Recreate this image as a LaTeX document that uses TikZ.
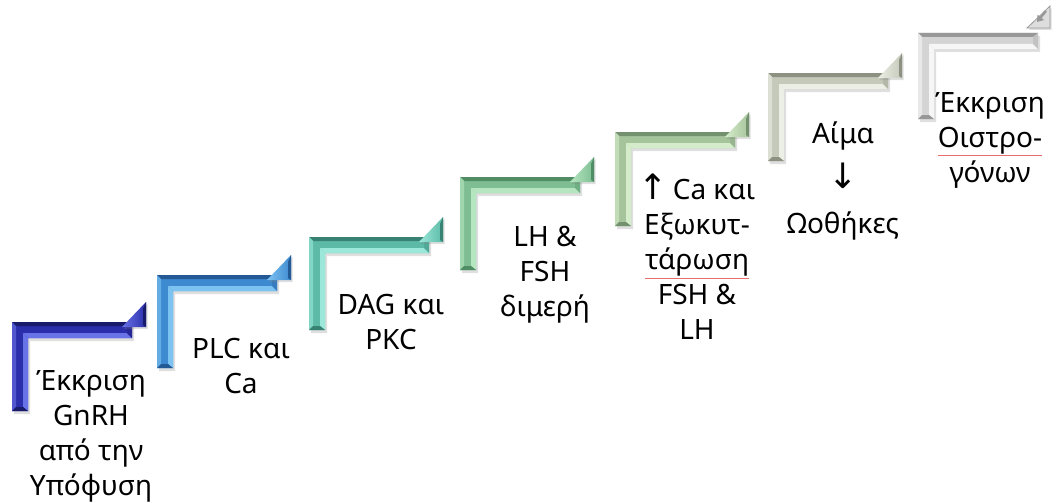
\documentclass[tikz,border=0pt]{standalone}
\usepackage{fontspec}
\setmainfont{Noto Sans}
\newfontfamily\arrowfont{DejaVu Sans}[Scale=1.25]
\usetikzlibrary{shadows,arrows.meta}
\definecolor{sAbase}{RGB}{42,46,170}\definecolor{sAlight}{RGB}{105,115,232}\definecolor{sAdark}{RGB}{24,27,105}
\definecolor{sBbase}{RGB}{62,138,208}\definecolor{sBlight}{RGB}{125,195,242}\definecolor{sBdark}{RGB}{35,90,150}
\definecolor{sCbase}{RGB}{92,186,166}\definecolor{sClight}{RGB}{155,232,218}\definecolor{sCdark}{RGB}{55,130,115}
\definecolor{sDbase}{RGB}{126,190,146}\definecolor{sDlight}{RGB}{182,230,192}\definecolor{sDdark}{RGB}{80,140,100}
\definecolor{sEbase}{RGB}{166,196,156}\definecolor{sElight}{RGB}{212,236,202}\definecolor{sEdark}{RGB}{115,145,110}
\definecolor{sFbase}{RGB}{196,201,186}\definecolor{sFlight}{RGB}{236,239,229}\definecolor{sFdark}{RGB}{140,145,130}
\definecolor{sGbase}{RGB}{212,212,212}\definecolor{sGlight}{RGB}{246,246,246}\definecolor{sGdark}{RGB}{152,152,152}
\definecolor{squig}{RGB}{232,110,110}
\newcommand\drawstep[6]{%
\begin{scope}[shift={(#1,#2)}]
 \fill[#4, drop shadow={opacity=0.25,shadow xshift=2pt,shadow yshift=-3pt}] (0,0) -- (120,0) -- (120,16) -- (16,16) -- (16,#3) -- (0,#3) -- cycle;
 \fill[#6] (0,0) -- (120,0) -- (115,4) -- (4,4) -- cycle;
 \fill[#5!60!#4] (0,0) -- (4,4) -- (4,#3-4) -- (0,#3) -- cycle;
 \fill[#5] (16,16) -- (120,16) -- (115,11) -- (11,11) -- cycle;
 \fill[#5] (16,16) -- (11,11) -- (11,#3-4) -- (16,#3) -- cycle;
 \fill[#6] (0,#3) -- (16,#3) -- (11,#3-4) -- (4,#3-4) -- cycle;
 \fill[#4!70!#6] (120,0) -- (120,16) -- (115,11) -- (115,4) -- cycle;
\end{scope}}
\newcommand\drawcorner[5]{%
\begin{scope}[shift={(#1,#2)}]
 \shade[left color=#4, right color=#3, drop shadow={opacity=0.25,shadow xshift=1.5pt,shadow yshift=-2pt}] (110,5) -- (134,5) -- (134,-20) -- cycle;
 \fill[#5] (134,5) -- (134,-20) -- (131,-13) -- (131,3) -- cycle;
\end{scope}}
\newcommand\squiggly[1]{{\color{squig}\underline{\color{black}#1}}}
\tikzset{steptext/.style={align=center, inner sep=0pt, font=\fontsize{28}{35}\selectfont}}
\begin{document}
\begin{tikzpicture}[x=1pt,y=-1pt]
\useasboundingbox (0,0) rectangle (1057,503);
\fill[white] (0,0) rectangle (1057,503);
% steps
\drawstep{918}{33}{86}{sGbase}{sGlight}{sGdark}
\drawstep{768}{73}{88}{sFbase}{sFlight}{sFdark}
\drawstep{615}{132}{94}{sEbase}{sElight}{sEdark}
\drawstep{460}{177}{93}{sDbase}{sDlight}{sDdark}
\drawstep{309}{237}{93}{sCbase}{sClight}{sCdark}
\drawstep{157}{275}{93}{sBbase}{sBlight}{sBdark}
\drawstep{12}{322}{89}{sAbase}{sAlight}{sAdark}
% corners
\drawcorner{768}{73}{sFbase}{sFlight}{sFdark}
\drawcorner{615}{132}{sEbase}{sElight}{sEdark}
\drawcorner{460}{177}{sDbase}{sDlight}{sDdark}
\drawcorner{309}{237}{sCbase}{sClight}{sCdark}
\drawcorner{157}{275}{sBbase}{sBlight}{sBdark}
\drawcorner{12}{322}{sAbase}{sAlight}{sAdark}
% last corner with return icon
\begin{scope}[shift={(918,33)}]
 \fill[sGbase!80!white, draw=sGdark, line width=0.8pt, drop shadow={opacity=0.25,shadow xshift=1.5pt,shadow yshift=-2pt}] (109,-5) -- (132,-5) -- (132,-27) -- cycle;
 \draw[sGdark, line width=2.2pt, -{Triangle[length=6pt,width=8pt]}] (128,-22) -- (119,-11);
\end{scope}
% texts
\node[steptext] (t1) at (91,436) {Έκκριση\\GnRH\\από την\\Υπόφυση};
\node[steptext] (t2) at (241,366) {PLC και\\Ca};
\node[steptext] (t3) at (391,322) {DAG και\\PKC};
\node[steptext] (t4) at (545,275) {LH \&\\FSH\\διμερή};
\node[steptext] (t5) at (697,257) {{\arrowfont ↑}\,Ca και\\Εξωκυτ-\\\squiggly{τάρωση}\\FSH \&\\LH};
\node[steptext] (t6) at (843,181) {Αίμα\\[10pt]{\arrowfont ↓}\\[10pt]Ωοθήκες};
\node[steptext] (t7) at (990,140) {Έκκριση\\\squiggly{Οιστρο-}\\γόνων};
\end{tikzpicture}
\end{document}
